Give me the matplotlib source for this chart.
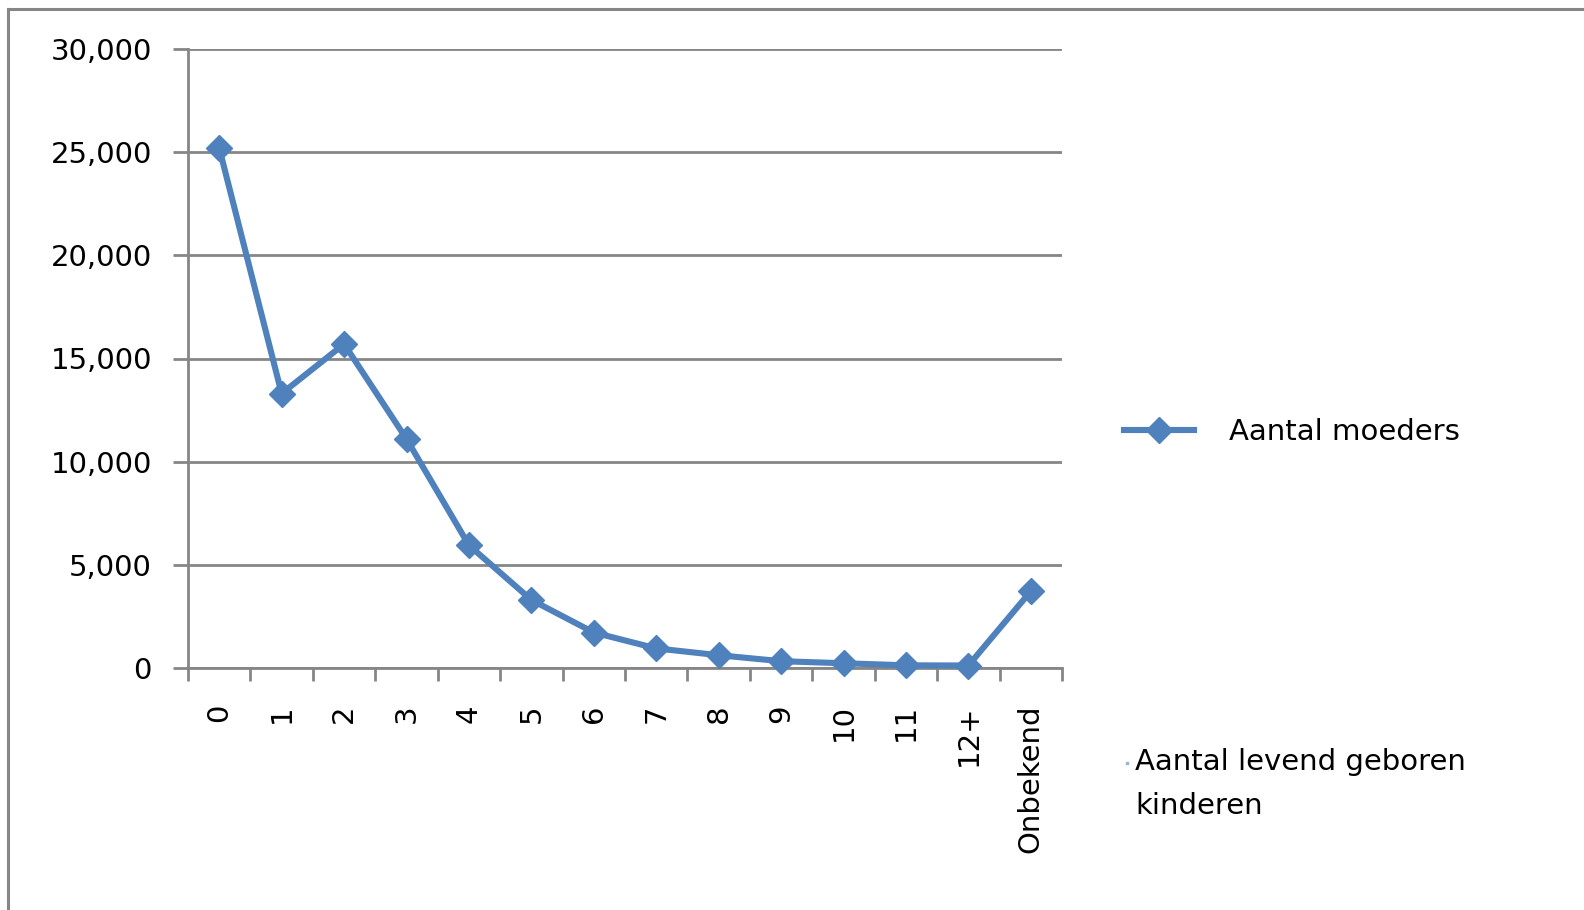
import matplotlib
matplotlib.use('Agg')
import matplotlib.pyplot as plt
from matplotlib.lines import Line2D
from matplotlib.ticker import FuncFormatter, FixedLocator

categories = ['0', '1', '2', '3', '4', '5', '6', '7', '8', '9', '10', '11', '12+', 'Onbekend']
moeders = [25200, 13300, 15700, 11100, 5950, 3300, 1720, 950, 620, 330, 230, 130, 120, 3720]
y_ticks = [0, 5000, 10000, 15000, 20000, 25000, 30000]

series_label = 'Aantal moeders'
x_title = 'Aantal levend geboren\nkinderen'

blue = '#4F81BD'
gray = '#868686'

plt.rcParams['font.family'] = ['DejaVu Sans']

fig = plt.figure(figsize=(15.84, 9.10), dpi=100)
ax = fig.add_axes([188 / 1584, (910 - 668) / 910, (1062 - 188) / 1584, (668 - 49) / 910])

x = list(range(len(categories)))
ax.plot(x, moeders, color=blue, linewidth=4.4, marker='D', markersize=13,
        markeredgecolor=blue, markerfacecolor=blue, clip_on=False, zorder=3)

ax.set_xlim(-0.5, len(categories) - 0.5)
ax.set_ylim(0, 30000)
ax.set_yticks(y_ticks)
ax.yaxis.set_major_formatter(FuncFormatter(lambda v, p: f'{int(v):,}'))
ax.grid(axis='y', color=gray, linewidth=2.0)
ax.set_axisbelow(True)

ax.set_xticks(x)
ax.set_xticklabels(categories, rotation=90, fontsize=21)
ax.xaxis.set_minor_locator(FixedLocator([i - 0.5 for i in range(len(categories) + 1)]))
ax.tick_params(axis='x', which='major', length=0, pad=26)
ax.tick_params(axis='x', which='minor', length=9, width=2.0, color=gray, direction='out')
ax.tick_params(axis='y', length=11, width=2.0, color=gray, pad=15, labelsize=21)

for side in ['top', 'right']:
    ax.spines[side].set_visible(False)
for side in ['left', 'bottom']:
    ax.spines[side].set_color(gray)
    ax.spines[side].set_linewidth(2.0)

# legend at right
leg_handle = Line2D([0], [0], color=blue, linewidth=4.4, marker='D', markersize=13)
fig.legend([leg_handle], [series_label], loc='center left',
           bbox_to_anchor=(1098 / 1584, 1 - 432 / 910), frameon=False, fontsize=21,
           handlelength=2.4, handletextpad=1.2)

# axis title placed by the chart in the right area
fig.add_artist(Line2D([1127 / 1584], [1 - 763 / 910], color='#9DB3D4', marker='s',
                      markersize=2, linestyle='none', transform=fig.transFigure))
fig.text(1135 / 1584, 1 - 748 / 910, x_title, fontsize=21, va='top', ha='left',
         linespacing=1.75)

# outer chart frame (top and left visible)
fig.add_artist(Line2D([8 / 1584, 1.0], [1 - 9 / 910, 1 - 9 / 910], color=gray, linewidth=2.2,
                      transform=fig.transFigure))
fig.add_artist(Line2D([8 / 1584, 8 / 1584], [1 - 9 / 910, 0.0], color=gray, linewidth=2.2,
                      transform=fig.transFigure))

fig.savefig('out.png', dpi=100)
